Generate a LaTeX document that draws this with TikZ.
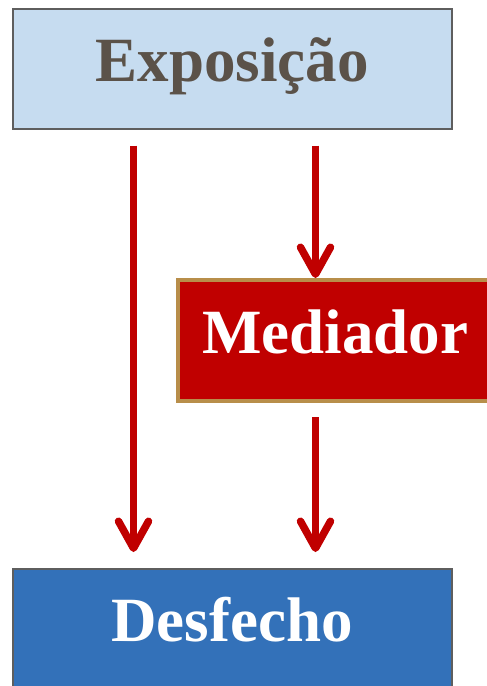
\documentclass[tikz,border=0pt]{standalone}
\usepackage{fontspec}
\setmainfont{Liberation Serif}
\usetikzlibrary{arrows.meta,calc}
\definecolor{expofill}{HTML}{C6DCF0}
\definecolor{expotext}{HTML}{5B5249}
\definecolor{boxline}{HTML}{5E5E5E}
\definecolor{medfill}{HTML}{C00000}
\definecolor{medline}{HTML}{B88E4A}
\definecolor{desffill}{HTML}{3371B9}
\definecolor{arrred}{HTML}{C00000}
\tikzset{
  stagebox/.style={rectangle, font=\fontsize{63}{70}\selectfont\bfseries,
    text height=42pt, text depth=17pt, inner sep=0pt, align=center},
  flowarrow/.style={draw=arrred, line width=7.5pt,
    -{Straight Barb[length=27pt, width=30pt, round]}}
}
\begin{document}
\begin{tikzpicture}[x=1pt,y=-1pt]
  \clip (0,0) rectangle (487,686);
  \useasboundingbox (0,0) rectangle (487,686);

  % the three stages
  \node[stagebox, fill=expofill, draw=boxline, line width=2pt, text=expotext,
        minimum width=439, minimum height=120] (expo) at (232,68.5) {Exposição};
  \node[stagebox, fill=medfill, draw=medline, line width=4pt, text=white,
        minimum width=314, minimum height=121] (med) at (335,340.5) {Mediador};
  \node[stagebox, fill=desffill, draw=boxline, line width=2pt, text=white,
        minimum width=439, minimum height=120] (desf) at (232,629) {Desfecho};

  % direct path and mediated path
  \draw[flowarrow] ($(expo.south)+(-98.5,16)$) -- ($(desf.north)+(-98.5,-16)$);
  \draw[flowarrow] ($(expo.south)+(83.5,16)$) -- ($(med.north)+(-19.5,0)$);
  \draw[flowarrow] ($(med.south)+(-19.5,14)$) -- ($(desf.north)+(83.5,-16)$);
\end{tikzpicture}
\end{document}
